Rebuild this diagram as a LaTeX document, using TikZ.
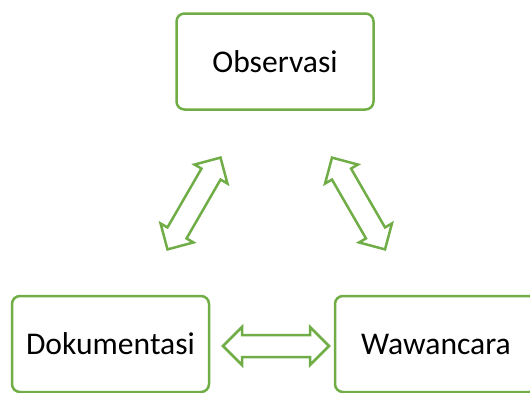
\documentclass[tikz,border=0pt]{standalone}
\usepackage{fontspec}
\setmainfont{Carlito}
\definecolor{leaf}{HTML}{70AD47}
\tikzset{
  box/.style={draw=leaf, line width=1.25pt, rounded corners=4pt,
    minimum width=98.5pt, minimum height=48pt, inner sep=0pt,
    font=\fontsize{15.8}{19}\selectfont},
  pics/twoway/.style={code={
    \draw[leaf, line width=1.25pt, line join=miter]
      (-53,0) -- (-34,19) -- (-34,11) -- (34,11) -- (34,19) -- (53,0)
      -- (34,-19) -- (34,-11) -- (-34,-11) -- (-34,-19) -- cycle;
  }}
}
\begin{document}
\begin{tikzpicture}[x=0.5pt,y=-0.5pt]
\useasboundingbox (0,0) rectangle (530,392);

\node[box] (obs) at (275,61.5) {Observasi};
\node[box] (dok) at (110.5,344) {Dokumentasi};
\node[box, minimum width=101pt] (waw) at (436,344) {Wawancara};

% two-way block arrows
\pic[rotate=60] (dokobs) at (194,203.5) {twoway};
\pic[rotate=120] (wawobs) at (358.5,203.5) {twoway};
\pic (dokwaw) at (276,346) {twoway};
\end{tikzpicture}
\end{document}
